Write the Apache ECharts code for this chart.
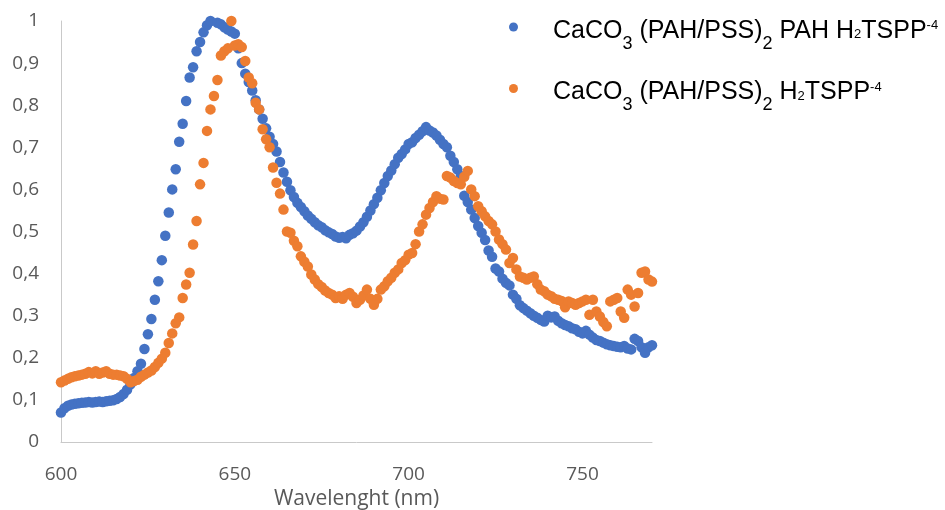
<!DOCTYPE html>
<html>
<head>
<meta charset="utf-8">
<title>Absorption spectra</title>
<script src="https://cdn.jsdelivr.net/npm/echarts@6/dist/echarts.min.js"></script>
<style>
  html, body { margin: 0; padding: 0; background: #fff; }
  #chart { width: 945px; height: 510px; }
</style>
</head>
<body>
<div id="chart"></div>
<script>
// Wavelength grid (nm), one sample per nanometre
const wavelengths = [
  600,601,602,603,604,605,606,607,608,609,610,611,612,613,614,615,616,617,618,619,
  620,621,622,623,624,625,626,627,628,629,630,631,632,633,634,635,636,637,638,639,
  640,641,642,643,644,645,646,647,648,649,650,651,652,653,654,655,656,657,658,659,
  660,661,662,663,664,665,666,667,668,669,670,671,672,673,674,675,676,677,678,679,
  680,681,682,683,684,685,686,687,688,689,690,691,692,693,694,695,696,697,698,699,
  700,701,702,703,704,705,706,707,708,709,710,711,712,713,714,715,716,717,718,719,
  720,721,722,723,724,725,726,727,728,729,730,731,732,733,734,735,736,737,738,739,
  740,741,742,743,744,745,746,747,748,749,750,751,752,753,754,755,756,757,758,759,
  760,761,762,763,764,765,766,767,768,769,770
];

// CaCO3 (PAH/PSS)2 PAH H2TSPP-4 — normalised absorbance
const absWithPah = [
  0.070,0.080,0.086,0.089,0.091,0.092,0.093,0.094,0.095,0.094,0.095,0.096,0.095,0.097,0.098,0.099,0.102,0.107,0.114,0.124,
  0.137,0.152,0.168,0.186,0.221,0.256,0.292,0.338,0.382,0.432,0.490,0.545,0.600,0.648,0.713,0.756,0.810,0.866,0.890,0.928,
  0.950,0.973,0.990,1.000,1.005,0.996,0.992,0.985,0.980,0.975,0.970,0.935,0.900,0.875,0.855,0.835,0.812,0.790,0.768,0.745,
  0.725,0.708,0.690,0.665,0.640,0.618,0.598,0.582,0.568,0.558,0.548,0.538,0.530,0.522,0.515,0.510,0.503,0.498,0.494,0.488,
  0.485,0.487,0.484,0.492,0.496,0.502,0.512,0.522,0.535,0.550,0.565,0.580,0.598,0.615,0.632,0.645,0.660,0.675,0.684,0.695,
  0.708,0.712,0.722,0.730,0.738,0.748,0.740,0.735,0.728,0.718,0.708,0.700,0.680,0.665,0.648,0.632,0.585,0.570,0.552,0.532,
  0.513,0.497,0.480,0.455,0.440,0.412,0.405,0.388,0.378,0.372,0.350,0.340,0.325,0.318,0.312,0.306,0.300,0.295,0.290,0.286,
  0.300,0.296,0.298,0.288,0.282,0.278,0.275,0.270,0.268,0.262,0.258,0.264,0.255,0.248,0.242,0.240,0.236,0.232,0.230,0.228,
  0.226,0.225,0.228,0.222,0.220,0.245,0.240,0.225,0.212,0.225,0.230
];

// CaCO3 (PAH/PSS)2 H2TSPP-4 — normalised absorbance
const absWithoutPah = [
  0.142,0.146,0.150,0.154,0.156,0.158,0.160,0.162,0.166,0.163,0.168,0.162,0.165,0.168,0.162,0.160,0.160,0.158,0.156,0.150,
  0.142,0.145,0.148,0.155,0.160,0.165,0.170,0.178,0.188,0.198,0.212,0.235,0.258,0.282,0.296,0.342,0.374,0.402,0.469,0.525,
  0.612,0.663,0.739,0.790,0.822,0.860,0.918,0.928,0.935,1.000,0.942,0.945,0.938,0.905,0.866,0.852,0.806,0.790,0.743,0.719,
  0.700,0.652,0.616,0.590,0.552,0.500,0.497,0.478,0.465,0.441,0.428,0.417,0.398,0.386,0.375,0.368,0.360,0.354,0.350,0.342,
  0.346,0.340,0.350,0.354,0.345,0.330,0.338,0.348,0.362,0.340,0.326,0.340,0.362,0.370,0.382,0.390,0.402,0.410,0.425,0.432,
  0.445,0.449,0.470,0.500,0.517,0.540,0.556,0.570,0.584,0.578,0.576,0.632,0.628,0.620,0.615,0.612,0.630,0.644,0.600,0.584,
  0.560,0.548,0.536,0.525,0.517,0.500,0.481,0.470,0.457,0.425,0.437,0.410,0.393,0.390,0.386,0.390,0.393,0.375,0.362,0.358,
  0.350,0.346,0.340,0.338,0.335,0.320,0.334,0.330,0.326,0.330,0.334,0.338,0.302,0.338,0.310,0.298,0.285,0.275,0.334,0.338,
  0.342,0.310,0.295,0.362,0.350,0.322,0.354,0.402,0.405,0.386,0.381
];

const seriesNames = [
  'CaCO3 (PAH/PSS)2 PAH H2TSPP-4',
  'CaCO3 (PAH/PSS)2 H2TSPP-4'
];
// Legend labels with sub/superscripts as rich-text tokens
const legendLabels = {
  'CaCO3 (PAH/PSS)2 PAH H2TSPP-4': '{g| }{m|CaCO}{s|3}{m| (PAH/PSS)}{s|2}{m| PAH H}{h|2}{m|TSPP}{p|-4}',
  'CaCO3 (PAH/PSS)2 H2TSPP-4': '{g| }{m|CaCO}{s|3}{m| (PAH/PSS)}{s|2}{m| H}{h|2}{m|TSPP}{p|-4}'
};
const xTicks = [600, 650, 700, 750];
const seriesColors = ['#4472C4', '#ED7D31'];

const pairs = (ys) => wavelengths.map((w, i) => [w, ys[i]]);

const chart = echarts.init(document.getElementById('chart'), null, { renderer: 'canvas' });

const axisFont = { fontFamily: 'Open Sans', fontSize: 19, color: '#595959' };
const legendFont = 'Liberation Sans';
const LH = 56; // common line box of the legend labels

chart.setOption({
  backgroundColor: '#ffffff',
  animation: false,
  grid: { left: 61, right: 293, top: 21, bottom: 68, containLabel: false, outerBoundsMode: 'none' },
  xAxis: {
    type: 'value',
    min: 600,
    max: 770,
    interval: 50,
    name: 'Wavelenght (nm)',
    nameLocation: 'middle',
    nameGap: 40,
    nameTextStyle: { fontFamily: 'Open Sans', fontSize: 21, color: '#595959' },
    axisLine: { show: true, onZero: false, lineStyle: { color: '#c9c9c9', width: 1 } },
    axisTick: { show: false },
    splitLine: { show: false },
    axisLabel: Object.assign({ margin: 23, customValues: xTicks }, axisFont)
  },
  yAxis: {
    type: 'value',
    min: 0,
    max: 1,
    interval: 0.1,
    axisLine: { show: true, lineStyle: { color: '#c9c9c9', width: 1 } },
    axisTick: { show: false },
    splitLine: { show: false },
    axisLabel: Object.assign({
      margin: 22,
      formatter: (v) => String(Math.round(v * 10) / 10).replace('.', ',')
    }, axisFont)
  },
  legend: {
    orient: 'vertical',
    left: 509,
    top: -1,
    padding: 0,
    itemGap: 5.5,
    icon: 'circle',
    itemWidth: 9,
    itemHeight: 9,
    data: seriesNames,
    formatter: (name) => legendLabels[name],
    textStyle: {
      fontFamily: legendFont,
      fontSize: 25,
      color: '#000',
      rich: {
        g: { width: 30, height: LH, fontSize: 25, lineHeight: LH, verticalAlign: 'top', padding: [0, 0, 0, 0] },
        m: { fontFamily: legendFont, fontSize: 25, color: '#000', lineHeight: LH, verticalAlign: 'top', padding: [19.4, 0, 0, 0] },
        s: { fontFamily: legendFont, fontSize: 18, color: '#000', lineHeight: LH, verticalAlign: 'top', padding: [35.9, 0, 0, 0] },
        h: { fontFamily: legendFont, fontSize: 13, color: '#000', lineHeight: LH, verticalAlign: 'top', padding: [29.4, 0, 0, 0] },
        p: { fontFamily: legendFont, fontSize: 13, color: '#000', lineHeight: LH, verticalAlign: 'top', padding: [20.4, 0, 0, 0] }
      }
    }
  },
  series: [
    {
      name: seriesNames[0],
      type: 'scatter',
      symbol: 'circle',
      symbolSize: 10.5,
      itemStyle: { color: seriesColors[0], opacity: 1 },
      data: pairs(absWithPah),
      z: 2
    },
    {
      name: seriesNames[1],
      type: 'scatter',
      symbol: 'circle',
      symbolSize: 10.5,
      itemStyle: { color: seriesColors[1], opacity: 1 },
      data: pairs(absWithoutPah),
      z: 3
    }
  ]
});
</script>
</body>
</html>
